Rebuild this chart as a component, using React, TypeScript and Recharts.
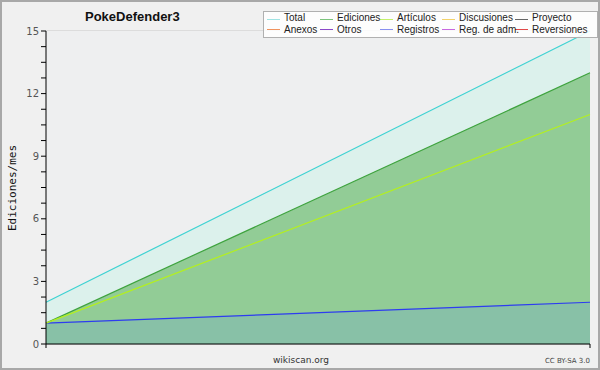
import React from 'react';
import { ComposedChart, Area, Line, XAxis, YAxis, CartesianGrid } from 'recharts';

// two monthly points
const months = [0, 1];
const totalValues = [2, 15];
const editValues = [1, 13];
const articleValues = [1, 11];
const logValues = [1, 2];

const majorTicks = [0, 3, 6, 9, 12, 15];
const allTicks = Array.from({ length: 21 }, (_, i) => i * 0.75);

const legendItems = [
  { name: 'Total', color: '#9fe3e3' },
  { name: 'Ediciones', color: '#7cc47c' },
  { name: 'Artículos', color: '#c4f06a' },
  { name: 'Discusiones', color: '#f2d26a' },
  { name: 'Proyecto', color: '#666666' },
  { name: 'Anexos', color: '#f0935e' },
  { name: 'Otros', color: '#8a48c8' },
  { name: 'Registros', color: '#8890f0' },
  { name: 'Reg. de adm.', color: '#c868e0' },
  { name: 'Reversiones', color: '#e04848' },
];
const legendCols = [267, 320, 380, 442, 515];

const data = months.map((m, i) => ({
  m,
  total: totalValues[i],
  edits: editValues[i],
  articles: articleValues[i],
  logs: logValues[i],
}));

const font = '"DejaVu Sans", sans-serif';
const narrow = '"Liberation Sans", Arial, sans-serif';

const App: React.FC = () => {
  return (
    <div
      style={{
        position: 'absolute',
        left: 0,
        top: 0,
        width: 600,
        height: 370,
        background: '#f0f0f0',
        fontFamily: font,
      }}
    >
      <ComposedChart
        width={600}
        height={370}
        data={data}
        margin={{ top: 31, right: 10, bottom: 0, left: 0 }}
        style={{ position: 'absolute', left: 0, top: 0 }}
      >
        <rect x={46} y={31} width={544} height={313} fill="#eeeff0" />
        <CartesianGrid horizontal vertical={false} horizontalValues={majorTicks} stroke="#c8c8c8" />
        <XAxis
          dataKey="m"
          type="number"
          domain={[0, 1]}
          ticks={[0, 1]}
          height={26}
          stroke="#000"
          tickSize={4}
          tickFormatter={() => ''}
        />
        <YAxis
          width={46}
          domain={[0, 15]}
          ticks={allTicks}
          interval={0}
          stroke="#000"
          tickSize={5}
          tickFormatter={(v: number) => (v % 3 === 0 ? String(v) : '')}
          tick={{ fontSize: 10, fill: '#555', fontFamily: font }}
        />
        <Area
          dataKey="total"
          type="linear"
          stroke="#3fd2d2"
          strokeWidth={1.2}
          fill="#dcf1ec"
          fillOpacity={1}
          isAnimationActive={false}
        />
        <Area
          dataKey="edits"
          type="linear"
          stroke="#3ea33e"
          strokeWidth={1.2}
          fill="#92cc96"
          fillOpacity={1}
          isAnimationActive={false}
        />
        <Line
          dataKey="articles"
          type="linear"
          stroke="#b4f01e"
          strokeWidth={1.2}
          dot={false}
          isAnimationActive={false}
        />
        <Area
          dataKey="logs"
          type="linear"
          stroke="#2d3cf0"
          strokeWidth={1.2}
          fill="#88c1a7"
          fillOpacity={1}
          isAnimationActive={false}
        />
      </ComposedChart>

      {/* outer frame */}
      <div
        style={{
          position: 'absolute',
          left: 0,
          top: 0,
          width: 600,
          height: 370,
          boxSizing: 'border-box',
          border: '2px solid #a8a8a8',
          pointerEvents: 'none',
        }}
      />

      <div
        style={{
          position: 'absolute',
          left: 85,
          top: 9,
          fontFamily: narrow,
          fontSize: 13,
          fontWeight: 'bold',
          color: '#111',
        }}
      >
        PokeDefender3
      </div>

      <div
        style={{
          position: 'absolute',
          left: 12,
          top: 188,
          transform: 'translate(-50%, -50%) rotate(-90deg)',
          fontFamily: '"DejaVu Sans Mono", monospace',
          fontSize: 11,
          color: '#111',
          whiteSpace: 'nowrap',
        }}
      >
        Ediciones/mes
      </div>

      {/* legend box */}
      <div
        style={{
          position: 'absolute',
          left: 263,
          top: 11,
          width: 335,
          height: 27,
          background: 'rgba(255,255,255,0.85)',
          border: '1px solid #b0b0b0',
          boxSizing: 'border-box',
        }}
      />
      <svg width={600} height={40} style={{ position: 'absolute', left: 0, top: 0 }}>
        {legendItems.map((item, i) => {
          const x = legendCols[i % 5];
          const y = i < 5 ? 19.5 : 29.5;
          return <line key={item.name} x1={x} x2={x + 13} y1={y} y2={y} stroke={item.color} strokeWidth={1} />;
        })}
      </svg>
      {legendItems.map((item, i) => {
        const x = legendCols[i % 5];
        const y = i < 5 ? 18 : 30;
        return (
          <div
            key={item.name}
            style={{
              position: 'absolute',
              left: x + 17,
              top: y - 5,
              fontFamily: narrow,
              fontSize: 10,
              lineHeight: '10px',
              color: '#222',
              whiteSpace: 'nowrap',
            }}
          >
            {item.name}
          </div>
        );
      })}

      <div style={{ position: 'absolute', left: 301, top: 355, transform: 'translateX(-50%)', fontSize: 9, color: '#333' }}>
        wikiscan.org
      </div>
      <div style={{ position: 'absolute', right: 10, top: 357, fontSize: 7, color: '#444' }}>CC BY-SA 3.0</div>
    </div>
  );
};

export default App;
